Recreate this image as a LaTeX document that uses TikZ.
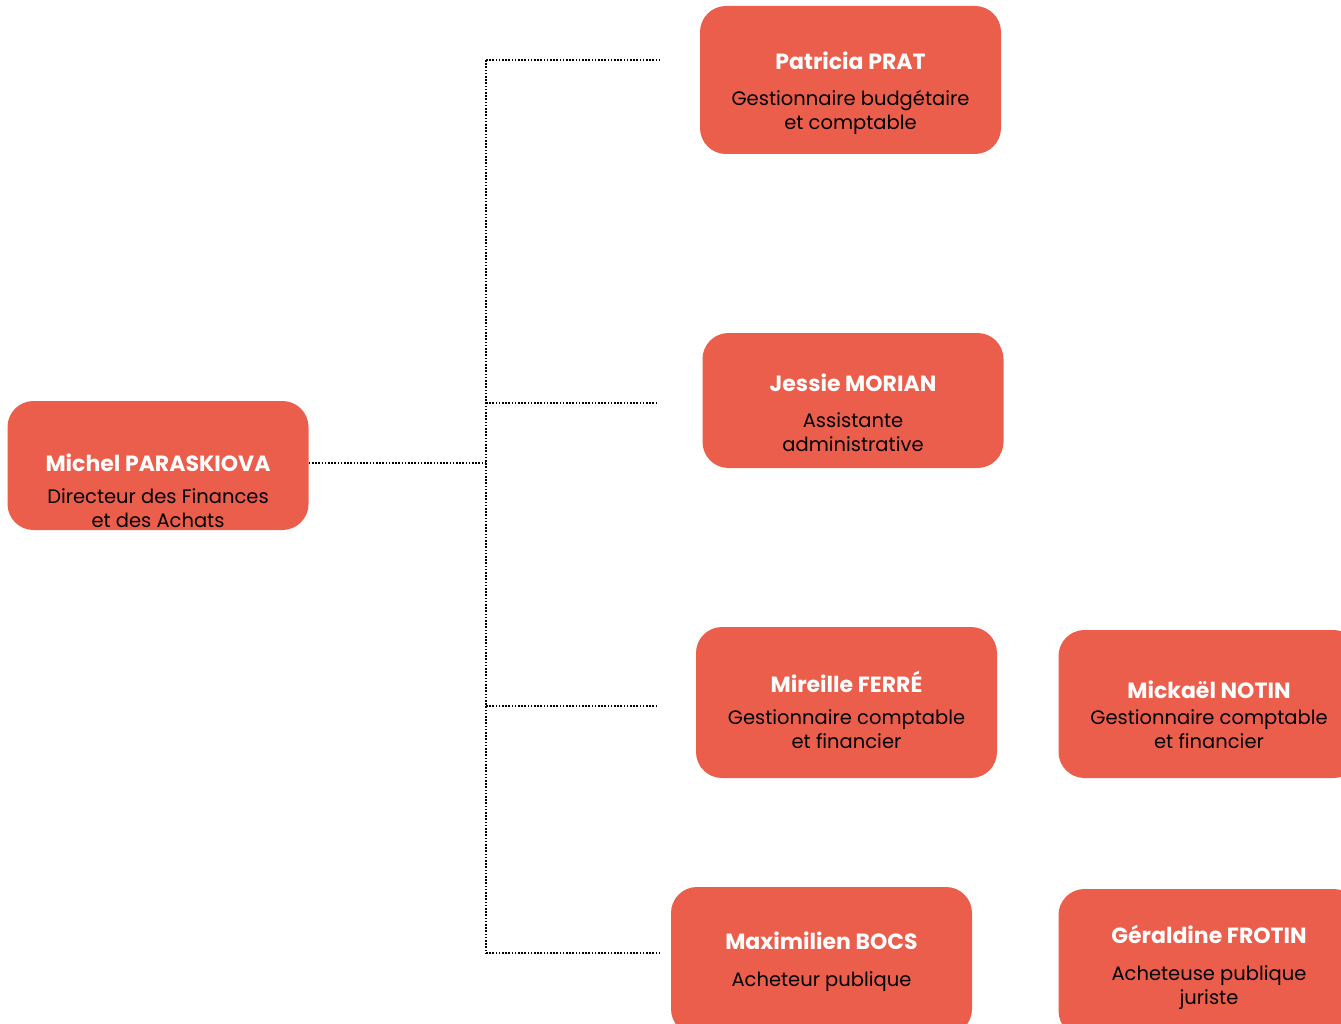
\documentclass[tikz,border=0pt]{standalone}
\usepackage{fontspec}
\setmainfont{Poppins}
\usetikzlibrary{calc}
\definecolor{corail}{HTML}{EB5E4B}
\tikzset{
    poste/.style={fill=corail, rounded corners=26pt, minimum width=301pt,
        minimum height=148pt, inner sep=0pt},
    texte/.style={align=center, inner sep=0pt,
        font=\fontsize{19.5}{24}\selectfont, text=black},
    lien/.style={line width=1.8pt, dash pattern=on 1.6pt off 1.6pt}
}
\newcommand{\nom}[1]{{\color{white}\bfseries\fontsize{22}{24}\selectfont #1}}
\begin{document}
\begin{tikzpicture}[x=1pt,y=-1pt]

    \useasboundingbox (0,0) rectangle (1341,1024);
    \clip (0,0) rectangle (1341,1024);

    % directeur
    \node[poste, minimum height=129pt] (michel) at (158,465.5) {};
    \node[texte] (michel-t) at ($(michel)+(0,25)$)
        {\nom{Michel PARASKIOVA}\\[8pt] Directeur des Finances\\ et des Achats};

    % equipe
    \node[poste] (patricia) at (850.5,80) {};
    \node[texte] (patricia-t) at ($(patricia)+(0,13)$)
        {\nom{Patricia PRAT}\\[12pt] Gestionnaire budgétaire\\ et comptable};

    \node[poste, minimum height=135pt] (jessie) at (853,400.5) {};
    \node[texte] (jessie-t) at ($(jessie)+(0,12)$)
        {\nom{Jessie MORIAN}\\[12pt] Assistante\\ administrative};

    \node[poste, minimum height=151pt] (mireille) at (846.5,702.5) {};
    \node[texte] (mireille-t) at ($(mireille)+(0,7)$)
        {\nom{Mireille FERRÉ}\\[8pt] Gestionnaire comptable\\ et financier};

    \node[poste] (mickael) at (1209,704) {};
    \node[texte] (mickael-t) at ($(mickael)+(0,11)$)
        {\nom{Mickaël NOTIN}\\[2pt] Gestionnaire comptable\\ et financier};

    \node[poste] (maximilien) at (821.5,961) {};
    \node[texte] (maximilien-t) at ($(maximilien)+(0,1)$)
        {\nom{Maximilien BOCS}\\[13pt] Acheteur publique};

    \node[poste] (geraldine) at (1209,963) {};
    \node[texte] (geraldine-t) at ($(geraldine)+(0,4)$)
        {\nom{Géraldine FROTIN}\\[13pt] Acheteuse publique\\ juriste};

    % liaisons
    \coordinate (tronc) at (486,463);
    \coordinate (haut) at (486,60);
    \coordinate (bas) at (486,953);
    \draw[lien] (michel.east |- tronc) -- (tronc);
    \draw[lien] (haut) -- (bas);
    \draw[lien] (haut) -- ++(174,0) coordinate (fin-patricia);
    \draw[lien] (486,403) -- ++(172,0) coordinate (fin-jessie);
    \draw[lien] (486,706) -- ++(172,0) coordinate (fin-mireille);
    \draw[lien] (bas) -- ++(174,0) coordinate (fin-maximilien);

\end{tikzpicture}
\end{document}
